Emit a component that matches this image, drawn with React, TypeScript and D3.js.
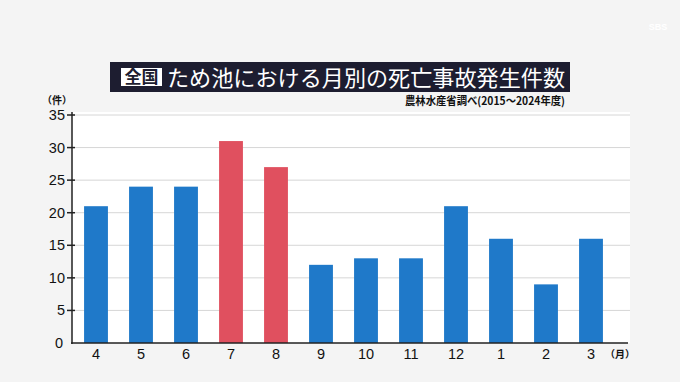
import React from "react";
import * as d3 from "d3";

const months = ["4", "5", "6", "7", "8", "9", "10", "11", "12", "1", "2", "3"];
const counts = [21, 24, 24, 31, 27, 12, 13, 13, 21, 16, 9, 16];
const highlighted = ["7", "8"];
const yTicks = [0, 5, 10, 15, 20, 25, 30, 35];
const titleTag = "全国";
const titleText = "ため池における月別の死亡事故発生件数";
const sourceText = "農林水産省調べ(2015～2024年度)";

const W = 680;
const H = 382;
const left = 72;
const right = 630;
const top = 115;
const bottom = 343;

export default function App() {
  const x = d3.scaleBand<string>().domain(months).range([73.5, 613.5]).paddingInner(0.47).paddingOuter(0.235);
  const y = d3.scaleLinear().domain([0, 35]).range([bottom, top]);
  const font = "'Noto Sans CJK JP', 'Noto Sans', sans-serif";
  const numFont = "'Liberation Sans', Arial, sans-serif";
  return (
    <svg width={W} height={H} style={{ position: "absolute", left: 0, top: 0, display: "block" }}>
      <rect x={0} y={0} width={W} height={H} fill="#f4f4f4" />
      <rect x={left} y={top - 3} width={right - left} height={bottom - top + 3} fill="#ffffff" />
      {/* title */}
      <rect x={110} y={62} width={460} height={30} fill="#1d1d30" />
      <rect x={121} y={68} width={41} height={18} fill="#ffffff" />
      <text x={141.5} y={83} textAnchor="middle" fontFamily={font} fontWeight={700} fontSize={17} fill="#1d1d30">{titleTag}</text>
      <text x={167} y={86} fontFamily={font} fontWeight={400} fontSize={22} fill="#ffffff" textLength={398} lengthAdjust="spacingAndGlyphs">{titleText}</text>
      <text x={565} y={105} textAnchor="end" fontFamily={font} fontWeight={700} fontSize={11} fill="#111" textLength={160} lengthAdjust="spacingAndGlyphs">{sourceText}</text>
      {/* grid */}
      {yTicks.filter((t) => t > 0).map((t) => (
        <line key={"g" + t} x1={left} x2={right} y1={y(t)} y2={y(t)} stroke="#d6d6d6" strokeWidth={1} />
      ))}
      {/* bars */}
      {months.map((m, i) => (
        <rect key={m} x={x(m)} y={y(counts[i])} width={x.bandwidth()} height={y(0) - y(counts[i])}
          fill={highlighted.includes(m) ? "#e0505f" : "#1f79c9"} />
      ))}
      {/* axes */}
      <line x1={left} x2={left} y1={top - 3} y2={bottom + 1} stroke="#222" strokeWidth={1.5} />
      <line x1={left - 1} x2={right - 2} y1={bottom} y2={bottom} stroke="#222" strokeWidth={1.5} />
      {yTicks.filter((t) => t > 0).map((t) => (
        <line key={"t" + t} x1={left - 5} x2={left + 3} y1={y(t)} y2={y(t)} stroke="#222" strokeWidth={1.5} />
      ))}
      {yTicks.map((t) => (
        <text key={"l" + t} x={t === 0 ? 63 : 65} y={y(t) + 5} textAnchor="end" fontFamily={numFont} fontSize={14.5} fill="#111">{t}</text>
      ))}
      <text x={57} y={104} textAnchor="middle" fontFamily={font} fontWeight={700} fontSize={10} fill="#111">（件）</text>
      {months.map((m) => (
        <text key={"x" + m} x={(x(m) as number) + x.bandwidth() / 2} y={359} textAnchor="middle" fontFamily={numFont} fontSize={14.5} fill="#111">{m}</text>
      ))}
      <text x={620} y={358} textAnchor="middle" fontFamily={font} fontWeight={700} fontSize={10} fill="#111">（月）</text>
      <text x={658} y={30} textAnchor="middle" fontFamily={numFont} fontWeight={700} fontSize={9} fill="#ffffff">SBS</text>
    </svg>
  );
}
